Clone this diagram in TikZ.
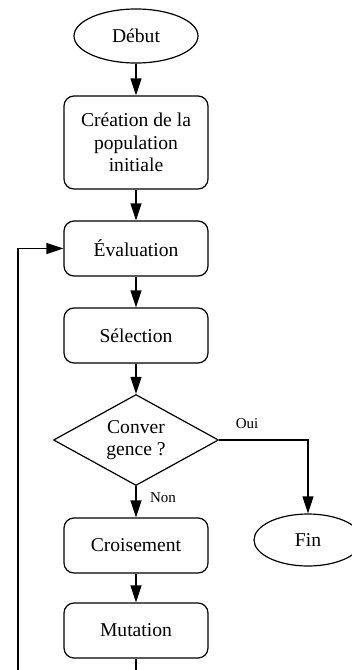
\documentclass[tikz,border=0pt]{standalone}
\usepackage{fontspec}
\setmainfont{Liberation Serif}
\usetikzlibrary{shapes.geometric,arrows.meta}

\tikzset{
  fleche/.style={draw, line width=0.6pt, -{Triangle[length=8.5pt,width=5.5pt]}},
  etape/.style={draw, line width=0.6pt, rectangle, rounded corners=5pt,
    minimum width=72pt, minimum height=27.5pt, align=center,
    font=\fontsize{9.8}{11.25}\selectfont},
  terminal/.style={draw, line width=0.6pt, ellipse, inner sep=0pt,
    font=\fontsize{9.8}{11.25}\selectfont},
  test/.style={draw, line width=0.6pt, diamond, aspect=1.81, inner sep=0pt,
    minimum width=82.5pt, minimum height=45.5pt, align=center,
    font=\fontsize{9.8}{11}\selectfont},
  etiquette/.style={font=\fontsize{7.5}{9}\selectfont}
}

\begin{document}
\begin{tikzpicture}[x=0.5pt,y=-0.5pt]
\useasboundingbox (0,0) rectangle (352,670);
\clip (0,0) rectangle (352,670);

% Nodes
\node[terminal, minimum width=62pt, minimum height=27pt] (debut) at (136,36) {Début};
\node[etape, minimum height=46.5pt] (creation) at (136,142.5) {Création de la\\population\\initiale};
\node[etape] (eval) at (136,248.5) {Évaluation};
\node[etape] (selection) at (136,335.5) {Sélection};
\node[test] (conv) at (136,440) {Conver\\gence ?};
\node[etape] (crois) at (136,545.5) {Croisement};
\node[etape] (mut) at (136,630.5) {Mutation};
\node[terminal, minimum width=54pt, minimum height=26pt] (fin) at (308,540) {Fin};

% Arrows
\draw[fleche] (debut) -- (creation);
\draw[fleche] (creation) -- (eval);
\draw[fleche] (eval) -- (selection);
\draw[fleche] (selection) -- (conv);
\draw[fleche] (conv) -- (crois);
\draw[fleche] (crois) -- (mut);
\draw[fleche] (conv.east) -| (fin.north);

% Loop
\coordinate (boucle) at (18,700);
\draw[fleche] (mut.south) |- (boucle) |- (eval.west);

% Labels
\node[etiquette] (oui) at (247,424) {Oui};
\node[etiquette] (non) at (163,498) {Non};
\end{tikzpicture}
\end{document}
